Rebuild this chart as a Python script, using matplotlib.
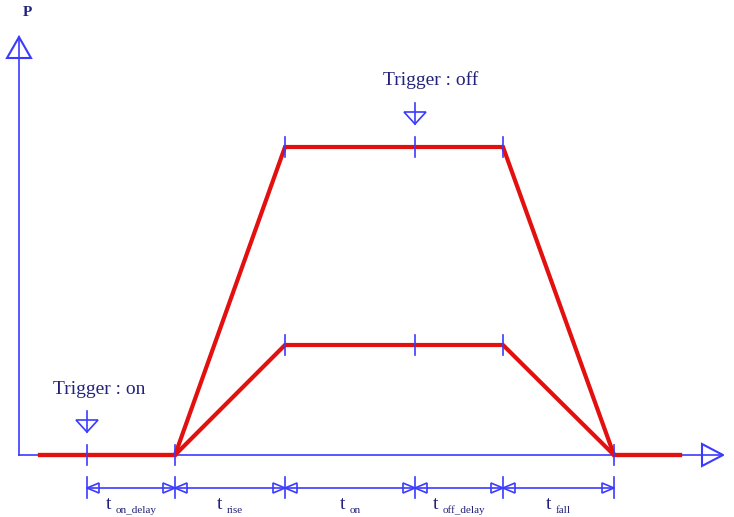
import matplotlib
matplotlib.use("Agg")
import matplotlib.pyplot as plt
from matplotlib.patches import Polygon
from matplotlib.transforms import offset_copy

# ---- data (time in arbitrary units from the P axis, power level) ----
time_points = [68, 156, 266, 396, 484, 595]   # trig on, rise start, rise end, trig off, fall start, fall end
power_high = 308
power_low = 110
trace_start = 21
trace_end = 661
phase_labels = ["on_delay", "rise", "on", "off_delay", "fall"]
trigger_labels = ["Trigger : on", "Trigger : off"]
axis_label = "P"

RED = "#e31010"
BLUE = "#3b3bff"
NAVY = "#22227a"
FONT = "Liberation Serif"

fig = plt.figure(figsize=(7.34, 5.17), dpi=100)
ax = fig.add_axes([0, 0, 1, 1])
ax.set_xlim(-19, 715)
ax.set_ylim(-62, 455)
ax.axis("off")

t0, t1, t2, t3, t4, t5 = time_points

# axes
ax.plot([0, 0], [0, 418], color=BLUE, lw=1.2, zorder=1)
ax.plot([0, 704], [0, 0], color=BLUE, lw=1.2, zorder=1)
ax.add_patch(Polygon([[-12, 397], [12, 397], [0, 418]], closed=True, fill=False,
                     edgecolor=BLUE, lw=1.5, zorder=2))
ax.add_patch(Polygon([[683, 11], [683, -11], [704, 0]], closed=True, fill=False,
                     edgecolor=BLUE, lw=1.5, zorder=2))
ax.text(8, 443, axis_label, fontsize=11, family=FONT, color=NAVY,
        ha="center", va="center", fontweight="bold")

# red traces
for level in (power_high, power_low):
    xs = [trace_start, t1, t2, t3, t4, t5, trace_end]
    ys = [0, 0, level, level, level, 0, 0]
    ax.plot(xs, ys, color=RED, lw=3.0, solid_joinstyle="miter", zorder=3)

# ticks on traces
for level in (power_high, power_low):
    for t in (t2, t3, t4):
        ax.plot([t, t], [level - 10, level + 10], color=BLUE, lw=1.2, zorder=4)
for t in (t0, t1, t5):
    ax.plot([t, t], [-10, 10], color=BLUE, lw=1.2, zorder=4)

# trigger arrows
def trigger_arrow(x, tip):
    ax.plot([x, x], [tip, tip + 21], color=BLUE, lw=1.2, zorder=4)
    ax.add_patch(Polygon([[x - 11, tip + 12], [x + 11, tip + 12], [x, tip]],
                         closed=True, fill=False, edgecolor=BLUE, lw=1.2, zorder=4))

trigger_arrow(t0, 23)
trigger_arrow(t3, 331)
ax.text(80.5, 66, trigger_labels[0], fontsize=14, family=FONT, color=NAVY,
        ha="center", va="center")
ax.text(412, 375, trigger_labels[1], fontsize=14, family=FONT, color=NAVY,
        ha="center", va="center")

# dimension line
dim_y = -33
ax.plot([t0, t5], [dim_y, dim_y], color=BLUE, lw=1.2, zorder=2)
for t in time_points:
    ax.plot([t, t], [dim_y + 11, dim_y - 10], color=BLUE, lw=1.2, zorder=2)

def head(x, direction):
    L, H = 12, 5
    ax.add_patch(Polygon([[x, dim_y], [x - direction * L, dim_y + H],
                          [x - direction * L, dim_y - H]], closed=True, fill=False,
                         edgecolor=BLUE, lw=1.2, zorder=3))

for a, b in zip(time_points[:-1], time_points[1:]):
    head(a, -1)
    head(b, +1)

# phase labels: "t" + lowered subscript, centred on each segment
fig.canvas.draw()
renderer = fig.canvas.get_renderer()
gap = 4
for (a, b), lab in zip(zip(time_points[:-1], time_points[1:]), phase_labels):
    xm = (a + b) / 2
    tt = ax.text(xm, -54, "t", fontsize=14, family=FONT, color=NAVY,
                 ha="left", va="baseline")
    st = ax.text(xm, -54, lab, fontsize=8, family=FONT, color=NAVY,
                 ha="left", va="baseline")
    wt = tt.get_window_extent(renderer).width
    ws = st.get_window_extent(renderer).width
    total = wt + gap + ws
    tt.set_transform(offset_copy(ax.transData, fig, x=-total / 2, y=0, units="dots"))
    st.set_transform(offset_copy(ax.transData, fig, x=-total / 2 + wt + gap, y=-4,
                                 units="dots"))

fig.savefig("out.png", dpi=100)
